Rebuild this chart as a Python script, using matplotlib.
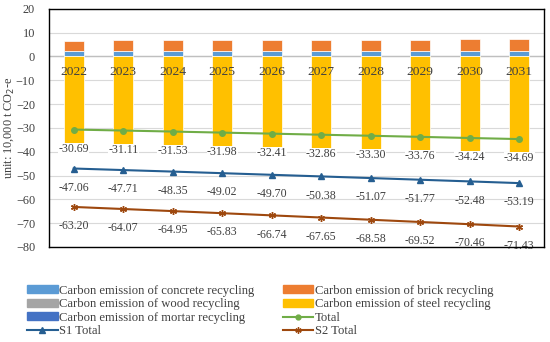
import numpy as np
import matplotlib.pyplot as plt
from matplotlib.patches import Patch
from matplotlib.lines import Line2D

plt.rcParams['font.family'] = ['Liberation Serif', 'DejaVu Serif']

years = ['2022', '2023', '2024', '2025', '2026', '2027', '2028', '2029', '2030', '2031']
total = [-30.69, -31.11, -31.53, -31.98, -32.41, -32.86, -33.30, -33.76, -34.24, -34.69]
s1_total = [-47.06, -47.71, -48.35, -49.02, -49.70, -50.38, -51.07, -51.77, -52.48, -53.19]
s2_total = [-63.20, -64.07, -64.95, -65.83, -66.74, -67.65, -68.58, -69.52, -70.46, -71.43]
concrete = [2.15, 2.17, 2.19, 2.21, 2.24, 2.26, 2.28, 2.31, 2.33, 2.36]
brick = [4.45, 4.48, 4.52, 4.55, 4.58, 4.62, 4.66, 4.70, 4.74, 4.78]
wood = [0.05, 0.05, 0.05, 0.05, 0.05, 0.05, 0.05, 0.05, 0.05, 0.05]
mortar = [0.03, 0.03, 0.03, 0.03, 0.03, 0.03, 0.03, 0.03, 0.03, 0.03]
# steel = total minus the positive parts
steel = [t - c - b - w - m for t, c, b, w, m in zip(total, concrete, brick, wood, mortar)]

fig = plt.figure(figsize=(5.5, 3.42), dpi=100)
ax = fig.add_axes([0.089, 0.278, 0.9, 0.696])

x = np.arange(len(years))
w = 0.4
b0 = np.zeros(len(years))
ax.bar(x, concrete, w, bottom=b0, color='#5B9BD5', edgecolor='white', linewidth=0.5, zorder=2)
b0 = b0 + np.array(concrete)
ax.bar(x, wood, w, bottom=b0, color='#A5A5A5', edgecolor='none', zorder=2)
b0 = b0 + np.array(wood)
ax.bar(x, mortar, w, bottom=b0, color='#4472C4', edgecolor='none', zorder=2)
b0 = b0 + np.array(mortar)
ax.bar(x, brick, w, bottom=b0, color='#ED7D31', edgecolor='white', linewidth=0.5, zorder=2)
ax.bar(x, steel, w, color='#FFC000', edgecolor='white', linewidth=0.5, zorder=2)

ax.plot(x, total, color='#70AD47', marker='o', markersize=4, linewidth=1.5, zorder=3)
ax.plot(x, s1_total, color='#255E91', marker='^', markersize=4.5, linewidth=1.5, zorder=3)
ax.plot(x, s2_total, color='#9E480E', marker=(6, 2, 0), markersize=5, linewidth=1.5, zorder=3)

for series in (total, s1_total, s2_total):
    for xi, v in zip(x, series):
        t = ax.annotate('%.2f' % v, (xi, v), xytext=(0, -9.5), textcoords='offset points',
                        ha='center', va='top', fontsize=8.6, color='#404040', zorder=4)
        if series is total:
            t.set_bbox(dict(boxstyle='square,pad=0.02', fc='white', ec='none'))

for xi, yr in zip(x, years):
    ax.text(xi, -4.2, yr, ha='center', va='top', fontsize=9.7, color='#404040', zorder=4)

ax.axhline(0, color='#BFBFBF', linewidth=1, zorder=1)
ax.set_xlim(-0.5, len(years) - 0.5)
ax.set_ylim(-80, 20)
ax.set_yticks(np.arange(-80, 21, 10))
ax.set_xticks([])
ax.tick_params(axis='y', length=0, labelsize=8.8, labelcolor='#404040', pad=10)
ax.yaxis.grid(True, color='#D9D9D9', linewidth=0.8, zorder=0)
ax.set_axisbelow(True)
for s in ax.spines.values():
    s.set_color('black')
    s.set_linewidth(1)
    s.set_zorder(5)
ax.set_ylabel('unit: 10,000 t CO$_2$-e', fontsize=8.8, color='#404040')
ax.yaxis.set_label_coords(-0.066, 0.5)

h = [
    Patch(color='#5B9BD5'), Patch(color='#A5A5A5'), Patch(color='#4472C4'),
    Line2D([], [], color='#255E91', marker='^', markersize=4, linewidth=1.5),
    Patch(color='#ED7D31'), Patch(color='#FFC000'),
    Line2D([], [], color='#70AD47', marker='o', markersize=3.5, linewidth=1.5),
    Line2D([], [], color='#9E480E', marker=(6, 2, 0), markersize=4.5, linewidth=1.5),
]
labels = ['Carbon emission of concrete recycling', 'Carbon emission of wood recycling',
          'Carbon emission of mortar recycling', 'S1 Total',
          'Carbon emission of brick recycling', 'Carbon emission of steel recycling',
          'Total', 'S2 Total']
fig.legend(h, labels, ncol=2, loc='upper left', bbox_to_anchor=(0.038, 0.186),
           frameon=False, fontsize=9.1, handlelength=2.4, handleheight=0.55,
           handletextpad=0.15, labelspacing=0.12, columnspacing=2.2, borderpad=0,
           labelcolor='#404040')

fig.savefig('out.png', dpi=100)
